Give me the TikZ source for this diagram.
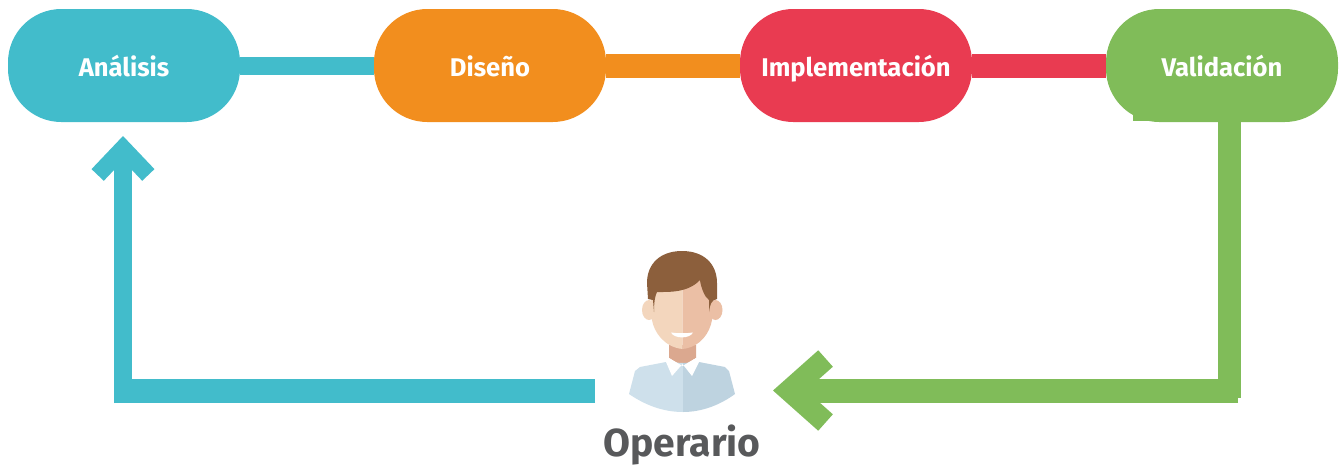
\documentclass[tikz,border=0pt]{standalone}
\usepackage{fontspec}
\setmainfont{Fira Sans}
\usepackage{tikz}
\usetikzlibrary{positioning,arrows.meta}
\definecolor{azul}{HTML}{42BCCB}
\definecolor{naranja}{HTML}{F28E1E}
\definecolor{rojo}{HTML}{E93B51}
\definecolor{verde}{HTML}{80BC59}
\definecolor{gris}{HTML}{58595B}
\definecolor{pielclara}{HTML}{F3D6BD}
\definecolor{pieloscura}{HTML}{EBBFA5}
\definecolor{cuello}{HTML}{DBA88F}
\definecolor{pelo}{HTML}{8C5F3C}
\definecolor{camisaclara}{HTML}{CEE0EB}
\definecolor{camisaoscura}{HTML}{BED3E0}

\begin{document}
\begin{tikzpicture}[x=0.75pt,y=-0.75pt]
					\tikzstyle{etapa}=[rectangle,rounded corners=40pt,minimum width=174pt,minimum height=84.75pt,inner sep=0pt,outer sep=0pt,text=white,text height=18pt,text depth=2.2pt,font=\fontsize{19.2}{22}\bfseries,node distance=100.5pt]
					\tikzstyle{enlace}=[line width=13.5pt]
					\tikzstyle{enlacegrueso}=[line width=18pt]

					\useasboundingbox (0,0) rectangle (1343,465);

					\node[etapa,fill=azul] (analisis) at (124,65.5) {Análisis};
					\node[etapa,fill=naranja,right=of analisis] (diseno) {Diseño};
					\node[etapa,fill=rojo,right=of diseno] (implementacion) {Implementación};
					\node[etapa,fill=verde,right=of implementacion] (validacion) {Validación};
					\node[anchor=base,text=gris,font=\fontsize{29.3}{34}\bfseries] (operario) at (682,456) {Operario};

					\coordinate (entrada) at (773,390.5);
					\coordinate (esquinaverde) at (1238,390.5);
					\coordinate (salida) at (595,391);
					\coordinate (esquinaazul) at (115,391);

					\draw[enlace,azul] (analisis.east) -- (diseno.west);
					\draw[enlacegrueso,naranja] (diseno.east) -- (implementacion.west);
					\draw[enlacegrueso,rojo] (implementacion.east) -- (validacion.west);

					\fill[verde] (1133,112) rectangle (1160,120.5);
					\draw[line width=17.25pt,verde] ([xshift=5.625pt]validacion.south) -- ++(0,276);
					\draw[enlacegrueso,verde,-{Straight Barb[length=27pt,width=48pt,line width=16.5pt]}] (esquinaverde) -- (entrada);
					\draw[enlacegrueso,azul] (salida) -- (esquinaazul);
					\draw[enlace,azul,-{Straight Barb[length=20pt,width=38pt,line width=12.7pt]}] (123,403) -- (123,136);

					\fill[pielclara] (649,310) ellipse (7 and 10);
					\fill[pieloscura] (715.5,310) ellipse (7 and 10);
					\fill[cuello] (669,345) -- (696,345) -- (696,358) -- (682.5,366) -- (669,358) -- cycle;
					\fill[pielclara] (682.5,272) -- (651,272) -- (651,307) -- (652,320) .. controls (654,332) and (664,347) .. (682.5,349) -- cycle;
					\fill[pieloscura] (682.5,272) -- (713,272) -- (713,307) -- (712,320) .. controls (710,332) and (701,347) .. (682.5,349) -- cycle;
					\fill[white] (671,332.5) .. controls (678,333.5) and (686,333.5) .. (693,332.5) .. controls (690,339) and (674,339) .. (671,332.5) -- cycle;
					\fill[pelo] (682,251) .. controls (660,251) and (647,264) .. (647,283) -- (648,299) -- (653,300) -- (654,312) .. controls (654,302) and (655,296) .. (657,292) .. controls (668,292) and (688,293) .. (700,280) .. controls (701,288) and (704,294) .. (706,297) -- (709,300) -- (709,312) .. controls (710,305) and (711,300) .. (717,299) -- (717,283) .. controls (717,264) and (704,251) .. (682,251) -- cycle;
					\fill[camisaclara] (683,363) -- (666,362) -- (640,367) -- (635,371) -- (629,394) .. controls (645,405) and (663,412) .. (683,412) -- cycle;
					\fill[camisaoscura] (683,363) -- (699,362) -- (725,367) -- (729,371) -- (735,394) .. controls (720,405) and (702,412) .. (683,412) -- cycle;
					\fill[white] (666,362) -- (672,376) -- (682.5,364) -- (692,376) -- (699,362) -- (696,358) -- (682.5,366) -- (669,358) -- cycle;
\end{tikzpicture}
\end{document}
